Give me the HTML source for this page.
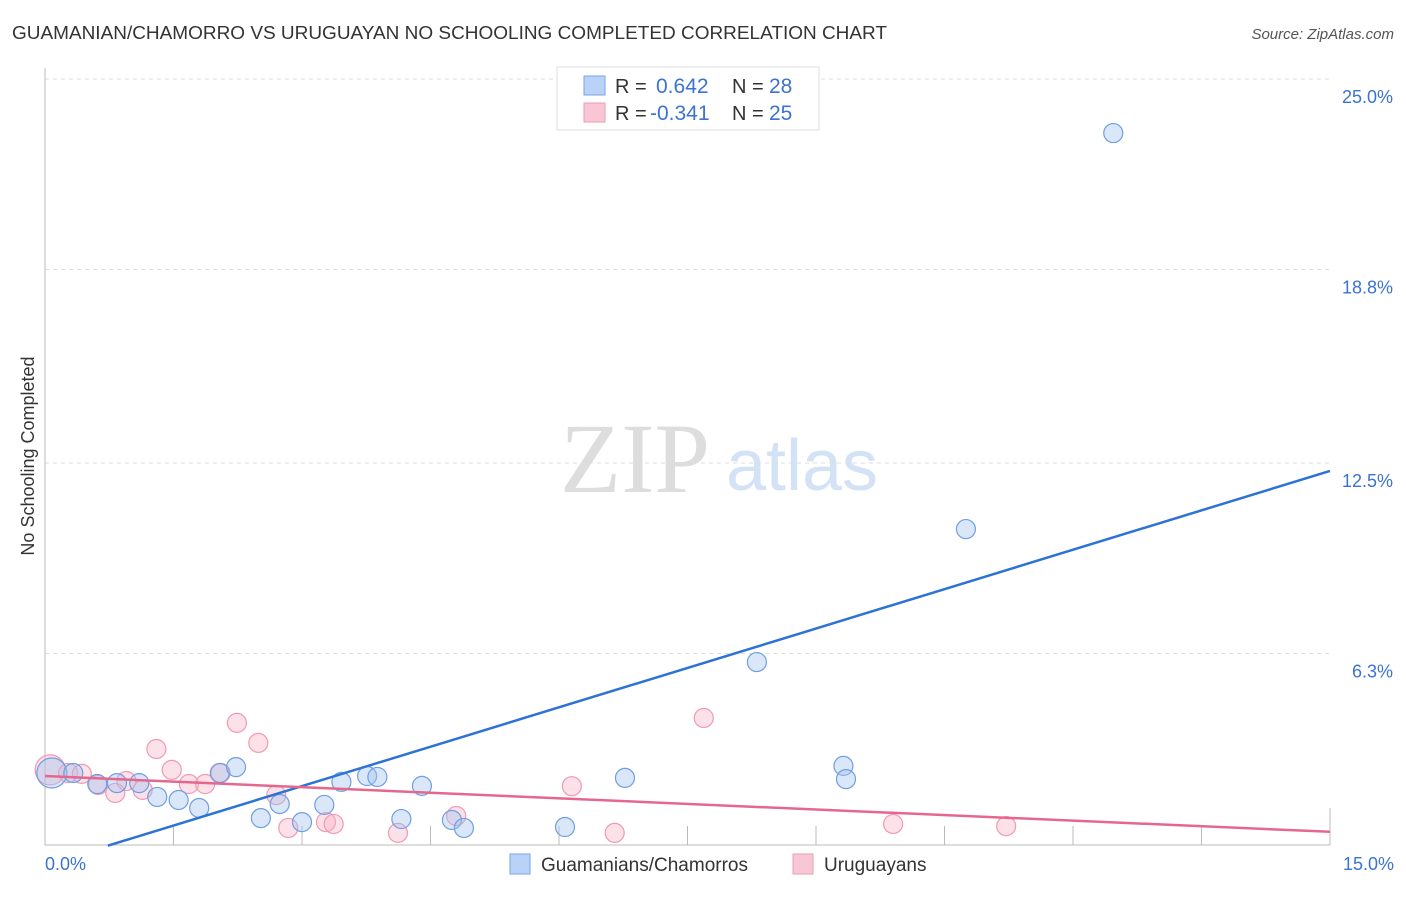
<!DOCTYPE html>
<html><head><meta charset="utf-8"><style>
body{margin:0;background:#fff;font-family:"Liberation Sans",sans-serif;}
svg text{font-family:"Liberation Sans",sans-serif;}
</style></head><body>
<svg width="1406" height="892" xmlns="http://www.w3.org/2000/svg">
<text x="12" y="39" font-size="18" fill="#333" textLength="875" lengthAdjust="spacingAndGlyphs">GUAMANIAN/CHAMORRO VS URUGUAYAN NO SCHOOLING COMPLETED CORRELATION CHART</text>
<text x="1394" y="39" font-size="15" fill="#555" font-style="italic" text-anchor="end">Source: ZipAtlas.com</text>
<text x="635" y="492" font-size="100" fill="#ddd" style="font-family:'Liberation Serif',serif" text-anchor="middle">ZIP</text>
<text x="802" y="490" font-size="72" fill="#d3e2f5" text-anchor="middle">atlas</text>
<text transform="translate(34,456) rotate(-90)" font-size="18" fill="#333" text-anchor="middle">No Schooling Completed</text>
<g id="grid"></g><g id="axes"></g><g id="pts"></g><g id="lines"></g>
<g>
<rect x="557" y="67" width="262" height="63" fill="#fff" stroke="#ddd"/>
<rect x="584" y="76" width="21" height="19" fill="#b8d3f7" stroke="#7aa6e6"/>
<text x="615" y="93" font-size="20" fill="#333">R = </text><text x="656" y="93" font-size="21" fill="#3b73d1">0.642</text>
<text x="732" y="93" font-size="20" fill="#333">N = </text><text x="769" y="93" font-size="21" fill="#3b73d1">28</text>
<rect x="584" y="103" width="21" height="19" fill="#f9c6d6" stroke="#ee9cb6"/>
<text x="615" y="120" font-size="20" fill="#333">R = </text><text x="650" y="120" font-size="21" fill="#3b73d1">-0.341</text>
<text x="732" y="120" font-size="20" fill="#333">N = </text><text x="769" y="120" font-size="21" fill="#3b73d1">25</text>
</g>
<g>
<rect x="510" y="854" width="20" height="20" fill="#b8d3f7" stroke="#7aa6e6"/>
<text x="541" y="871" font-size="19" fill="#333">Guamanians/Chamorros</text>
<rect x="793" y="854" width="20" height="20" fill="#f9c6d6" stroke="#ee9cb6"/>
<text x="824" y="871" font-size="19" fill="#333">Uruguayans</text>
</g>
</svg>
<script>
const blueX=[0.08,0.33,0.61,0.84,1.10,1.31,1.56,1.80,2.04,2.23,2.52,2.74,3.00,3.26,3.46,3.76,3.88,4.16,4.40,4.75,4.89,6.07,6.77,8.31,9.32,9.35,10.75,12.47];
const blueY=[2.41,2.41,2.05,2.08,2.08,1.63,1.53,1.27,2.41,2.60,0.94,1.40,0.81,1.37,2.12,2.31,2.28,0.91,1.99,0.88,0.62,0.65,2.25,6.02,2.64,2.21,10.35,23.24];
const pinkX=[0.06,0.27,0.43,0.62,0.82,0.95,1.14,1.30,1.48,1.68,1.87,2.05,2.24,2.49,2.70,2.84,3.28,3.37,4.12,4.80,6.15,6.65,7.69,9.90,11.22];
const pinkY=[2.51,2.41,2.38,2.02,1.76,2.15,1.86,3.19,2.51,2.05,2.05,2.41,4.04,3.39,1.69,0.62,0.81,0.75,0.46,1.01,1.98,0.46,4.20,0.75,0.68];
const blueTrend=[-0.584,0.855];
const pinkTrend=[2.31,-0.121];
const yTicks=[25.0,18.8,12.5,6.3];
const yTickLabels=["25.0%","18.8%","12.5%","6.3%"];
const xTicks=[1.5,3,4.5,6,7.5,9,10.5,12,13.5,15];
const NS="http://www.w3.org/2000/svg";
const X=v=>45+v/15*1285, Y=v=>847-v*30.72;
function mk(p,t,a){const e=document.createElementNS(NS,t);for(const k in a)e.setAttribute(k,a[k]);document.getElementById(p).appendChild(e);return e;}
yTicks.forEach((t,i)=>{
 const g=mk('grid','line',{x1:45,x2:1330,y1:Y(t),y2:Y(t),stroke:'#ddd','stroke-dasharray':'4,4'});
 
 
 const l=mk('grid','text',{x:1393,y:Y(t)+24,'font-size':18,fill:'#3b73d1','text-anchor':'end'});
 l.textContent=yTickLabels[i];
 
 
});
let a=mk('axes','line',{x1:45,x2:45,y1:68,y2:845,stroke:'#bbb'});


a=mk('axes','line',{x1:45,x2:1330,y1:845,y2:845,stroke:'#bbb'});


xTicks.forEach((t,i)=>{
 const e=mk('axes','line',{x1:X(t),x2:X(t),y1:i==xTicks.length-1?808:826,y2:845,stroke:'#bbb'});
 
 
});
let t=mk('axes','text',{x:45,y:870,'font-size':18,fill:'#3b73d1'});t.textContent='0.0%';


t=mk('axes','text',{x:1394,y:870,'font-size':18,fill:'#3b73d1','text-anchor':'end'});t.textContent='15.0%';


function pts(xs,ys,fill,stroke,name){xs.forEach((x,i)=>{
 const c=mk('pts','circle',{cx:X(x),cy:Y(ys[i]),r:i==0?15:9.5,fill:fill,stroke:stroke,'stroke-width':1.2});
 
 
});}
pts(pinkX,pinkY,'rgba(248,180,200,0.4)','#ef9ab5','uruguayan-point');
pts(blueX,blueY,'rgba(160,196,240,0.4)','#6f9fe0','guamanian-point');
let x0=(0-blueTrend[0])/blueTrend[1]+0.05;
let ln=mk('lines','line',{x1:X(x0),y1:Y(blueTrend[0]+blueTrend[1]*x0),x2:X(15),y2:Y(blueTrend[0]+blueTrend[1]*15),stroke:'#2d73d6','stroke-width':2.5});


ln=mk('lines','line',{x1:X(0),y1:Y(pinkTrend[0]),x2:X(15),y2:Y(pinkTrend[0]+pinkTrend[1]*15),stroke:'#e5678f','stroke-width':2.5});


</script>
</body></html>
